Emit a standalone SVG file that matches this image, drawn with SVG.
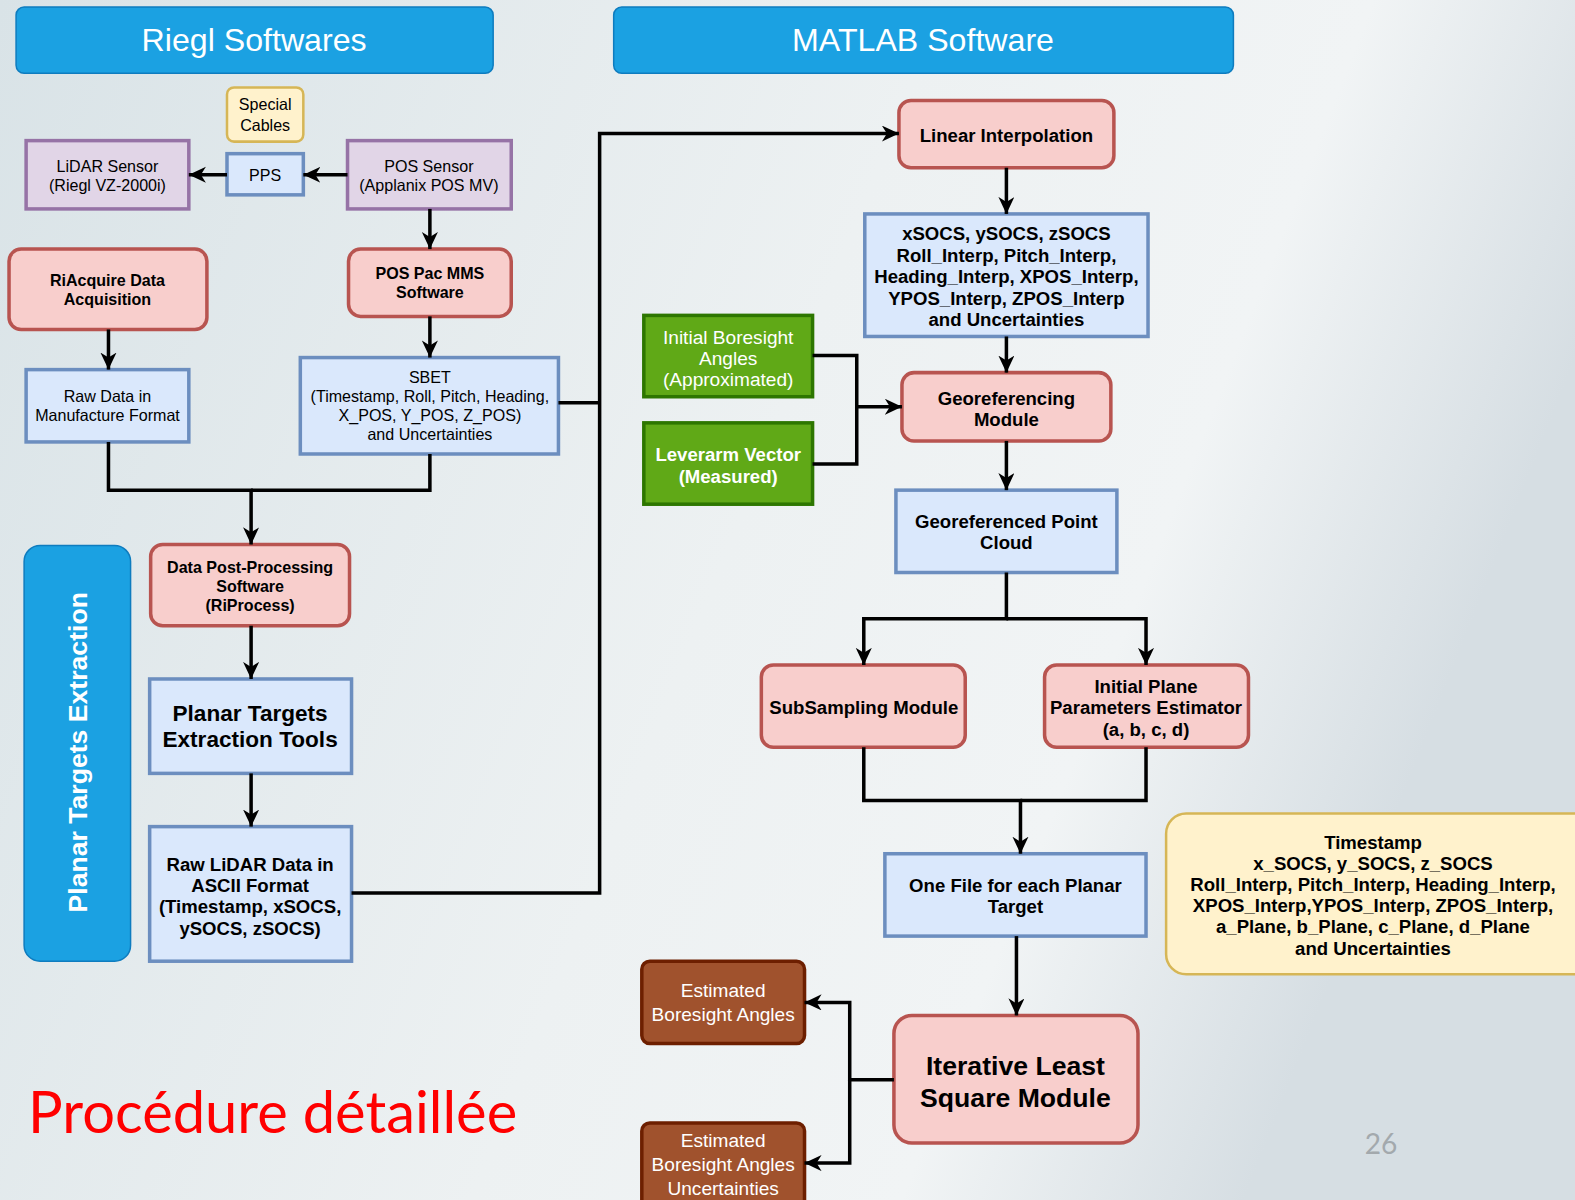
<svg xmlns="http://www.w3.org/2000/svg" width="1575" height="1200" viewBox="0 0 1575 1200">
<defs>
<linearGradient id="bg" x1="0" y1="0" x2="1" y2="0.3">
<stop offset="0" stop-color="#d9e3e7"/>
<stop offset="0.55" stop-color="#edf1f2"/>
<stop offset="0.8" stop-color="#f1f4f5"/>
<stop offset="1" stop-color="#d6dee3"/>
</linearGradient>
<marker id="arr" markerUnits="userSpaceOnUse" markerWidth="20" markerHeight="18" refX="17" refY="8" orient="auto">
<path d="M0,0 L17,8 L0,16 L5,8 Z" fill="#000"/>
</marker>
<style>
.hdr{fill:#1ba1e2;stroke:#0e7cbf;stroke-width:1.5}
.blue{fill:#dae8fc;stroke:#6c8ebf;stroke-width:3.5}
.pink{fill:#f8cecc;stroke:#b85450;stroke-width:3.5}
.purple{fill:#e1d5e7;stroke:#9673a6;stroke-width:3.5}
.yel{fill:#fff2cc;stroke:#d6b656;stroke-width:2.5}
.green{fill:#60a917;stroke:#2d7600;stroke-width:3.5}
.brown{fill:#a0522d;stroke:#6d1f00;stroke-width:3.5}
text{font-family:"Liberation Sans",Arial,sans-serif;text-anchor:middle;fill:#000}
.n16{font-size:16px}
.b16{font-size:16px;font-weight:bold}
.b18{font-size:18.5px;font-weight:bold}
.n18{font-size:19px}
.b26{font-size:26.5px;font-weight:bold}
.w{fill:#fff}
.conn{fill:none;stroke:#000;stroke-width:3.5}
</style>
</defs>
<rect x="0" y="0" width="1575" height="1200" fill="url(#bg)"/>
<g transform="scale(1.0044)">
<g id="hdr-riegl"><rect class="hdr" x="16" y="7" width="475" height="66" rx="8"/><text class="w" x="253" y="51" style="font-size:32px">Riegl Softwares</text></g>
<g id="hdr-matlab"><rect class="hdr" x="611" y="7" width="617" height="66" rx="8"/><text class="w" x="919" y="51" style="font-size:32px">MATLAB Software</text></g>
<g id="special-cables"><rect class="yel" x="226" y="87" width="76" height="54" rx="7"/><text class="n16" x="264" y="110">Special</text><text class="n16" x="264" y="130">Cables</text></g>
<g id="lidar-sensor"><rect class="purple" x="26" y="140" width="162" height="68"/><text class="n16" x="107" y="171">LiDAR Sensor</text><text class="n16" x="107" y="190">(Riegl VZ-2000i)</text></g>
<g id="pps"><rect class="blue" x="226" y="153" width="76" height="41"/><text class="n16" x="264" y="180">PPS</text></g>
<g id="pos-sensor"><rect class="purple" x="346" y="140" width="163" height="68"/><text class="n16" x="427" y="171">POS Sensor</text><text class="n16" x="427" y="190">(Applanix POS MV)</text></g>
<g id="riacquire"><rect class="pink" x="9" y="248" width="197" height="80" rx="12"/><text class="b16" x="107" y="285">RiAcquire Data</text><text class="b16" x="107" y="304">Acquisition</text></g>
<g id="pospac"><rect class="pink" x="347" y="248" width="162" height="67" rx="12"/><text class="b16" x="428" y="278">POS Pac MMS</text><text class="b16" x="428" y="297">Software</text></g>
<g id="raw-data"><rect class="blue" x="26" y="368" width="162" height="72"/><text class="n16" x="107" y="400">Raw Data in</text><text class="n16" x="107" y="419">Manufacture Format</text></g>
<g id="sbet"><rect class="blue" x="299" y="356" width="257" height="96"/><text class="n16" x="428" y="381">SBET</text><text class="n16" x="428" y="400">(Timestamp, Roll, Pitch, Heading,</text><text class="n16" x="428" y="419">X_POS, Y_POS, Z_POS)</text><text class="n16" x="428" y="438">and Uncertainties</text></g>
<g id="pte-label"><rect class="hdr" x="24" y="543" width="106" height="414" rx="16"/><text class="w" transform="translate(87,749) rotate(-90)" style="font-size:26.5px;font-weight:bold">Planar Targets Extraction</text></g>
<g id="post-processing"><rect class="pink" x="150" y="542" width="198" height="81" rx="12"/><text class="b16" x="249" y="570">Data Post-Processing</text><text class="b16" x="249" y="589">Software</text><text class="b16" x="249" y="608">(RiProcess)</text></g>
<g id="pte-tools"><rect class="blue" x="149" y="676" width="201" height="94"/><text class="b26" x="249" y="718" style="font-size:22.5px">Planar Targets</text><text class="b26" x="249" y="744" style="font-size:22.5px">Extraction Tools</text></g>
<g id="raw-lidar"><rect class="blue" x="149" y="823" width="201" height="134"/><text class="b18" x="249" y="867">Raw LiDAR Data in</text><text class="b18" x="249" y="888">ASCII Format</text><text class="b18" x="249" y="909">(Timestamp, xSOCS,</text><text class="b18" x="249" y="931">ySOCS, zSOCS)</text></g>
<g id="linear-interp"><rect class="pink" x="895" y="100" width="214" height="67" rx="12"/><text class="b18" x="1002" y="141">Linear Interpolation</text></g>
<g id="xsocs"><rect class="blue" x="861" y="213" width="282" height="122"/><text class="b18" x="1002" y="239">xSOCS, ySOCS, zSOCS</text><text class="b18" x="1002" y="261">Roll_Interp, Pitch_Interp,</text><text class="b18" x="1002" y="282">Heading_Interp, XPOS_Interp,</text><text class="b18" x="1002" y="304">YPOS_Interp, ZPOS_Interp</text><text class="b18" x="1002" y="325">and Uncertainties</text></g>
<g id="init-boresight"><rect class="green" x="641" y="314" width="168" height="81"/><text class="n18 w" x="725" y="342">Initial Boresight</text><text class="n18 w" x="725" y="363">Angles</text><text class="n18 w" x="725" y="384">(Approximated)</text></g>
<g id="leverarm"><rect class="green" x="641" y="421" width="168" height="81"/><text class="b18 w" x="725" y="459">Leverarm Vector</text><text class="b18 w" x="725" y="481">(Measured)</text></g>
<g id="georef"><rect class="pink" x="898" y="371" width="208" height="68" rx="12"/><text class="b18" x="1002" y="403">Georeferencing</text><text class="b18" x="1002" y="424">Module</text></g>
<g id="gpc"><rect class="blue" x="892" y="488" width="220" height="82"/><text class="b18" x="1002" y="526">Georeferenced Point</text><text class="b18" x="1002" y="547">Cloud</text></g>
<g id="subsampling"><rect class="pink" x="758" y="662" width="203" height="82" rx="12"/><text class="b18" x="860" y="711">SubSampling Module</text></g>
<g id="plane-est"><rect class="pink" x="1040" y="662" width="203" height="82" rx="12"/><text class="b18" x="1141" y="690">Initial Plane</text><text class="b18" x="1141" y="711">Parameters Estimator</text><text class="b18" x="1141" y="733">(a, b, c, d)</text></g>
<g id="one-file"><rect class="blue" x="881" y="850" width="260" height="82"/><text class="b18" x="1011" y="888">One File for each Planar</text><text class="b18" x="1011" y="909">Target</text></g>
<g id="note"><rect class="yel" x="1161" y="810" width="430" height="160" rx="20"/><text class="b18" x="1367" y="845">Timestamp</text><text class="b18" x="1367" y="866">x_SOCS, y_SOCS, z_SOCS</text><text class="b18" x="1367" y="887">Roll_Interp, Pitch_Interp, Heading_Interp,</text><text class="b18" x="1367" y="908">XPOS_Interp,YPOS_Interp, ZPOS_Interp,</text><text class="b18" x="1367" y="929">a_Plane, b_Plane, c_Plane, d_Plane</text><text class="b18" x="1367" y="951">and Uncertainties</text></g>
<g id="ils"><rect class="pink" x="890" y="1011" width="243" height="127" rx="18"/><text class="b26" x="1011" y="1070">Iterative Least</text><text class="b26" x="1011" y="1102">Square Module</text></g>
<g id="eba"><rect class="brown" x="639" y="957" width="162" height="82" rx="8"/><text class="n18 w" x="720" y="993">Estimated</text><text class="n18 w" x="720" y="1017">Boresight Angles</text></g>
<g id="ebau"><rect class="brown" x="639" y="1118" width="162" height="100" rx="8"/><text class="n18 w" x="720" y="1142">Estimated</text><text class="n18 w" x="720" y="1166">Boresight Angles</text><text class="n18 w" x="720" y="1190">Uncertainties</text></g>
<g id="connectors">
<path class="conn" marker-end="url(#arr)" d="M226,174 L188,174"/>
<path class="conn" marker-end="url(#arr)" d="M346,174 L302,174"/>
<path class="conn" marker-end="url(#arr)" d="M428,208 L428,248"/>
<path class="conn" marker-end="url(#arr)" d="M428,315 L428,356"/>
<path class="conn" marker-end="url(#arr)" d="M108,328 L108,368"/>
<path class="conn" marker-end="url(#arr)" d="M108,440 L108,488 L250,488 L250,542"/>
<path class="conn" d="M428,452 L428,488 L250,488"/>
<path class="conn" marker-end="url(#arr)" d="M250,623 L250,676"/>
<path class="conn" marker-end="url(#arr)" d="M250,770 L250,823"/>
<path class="conn" marker-end="url(#arr)" d="M350,889 L597,889 L597,133 L895,133"/>
<path class="conn" d="M556,401 L597,401"/>
<path class="conn" marker-end="url(#arr)" d="M1002,167 L1002,213"/>
<path class="conn" marker-end="url(#arr)" d="M1002,335 L1002,371"/>
<path class="conn" marker-end="url(#arr)" d="M809,354 L853,354 L853,405 L898,405"/>
<path class="conn" d="M809,462 L853,462 L853,405"/>
<path class="conn" marker-end="url(#arr)" d="M1002,439 L1002,488"/>
<path class="conn" marker-end="url(#arr)" d="M1002,570 L1002,616 L860,616 L860,662"/>
<path class="conn" marker-end="url(#arr)" d="M1002,616 L1141,616 L1141,662"/>
<path class="conn" marker-end="url(#arr)" d="M860,744 L860,797 L1016,797 L1016,850"/>
<path class="conn" d="M1141,744 L1141,797 L1016,797"/>
<path class="conn" marker-end="url(#arr)" d="M1012,932 L1012,1011"/>
<path class="conn" marker-end="url(#arr)" d="M890,1075 L846,1075 L846,998 L801,998"/>
<path class="conn" marker-end="url(#arr)" d="M846,1075 L846,1158 L801,1158"/>
</g>
<text x="28" y="1128" textLength="487" lengthAdjust="spacingAndGlyphs" style="font-family:Lato,'Open Sans',sans-serif;font-size:58px;fill:#ff0000;text-anchor:start">Procédure détaillée</text>
<text x="1375" y="1149" style="font-family:Lato,'Open Sans',sans-serif;font-size:28px;fill:#a3a9ad">26</text>
</g>
</svg>
